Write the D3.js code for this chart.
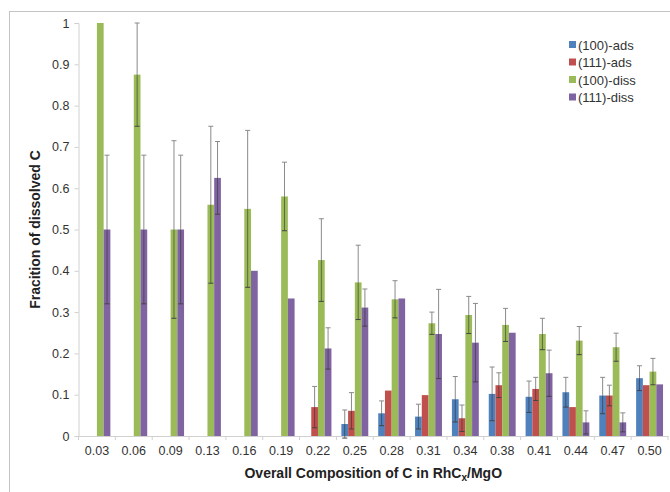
<!DOCTYPE html>
<html><head><meta charset="utf-8">
<script src="https://cdn.jsdelivr.net/npm/d3@7"></script>
<style>body{margin:0;background:#fff}svg{display:block;font-family:"Liberation Sans",Arial,sans-serif}</style>
</head><body><svg id="c" width="670" height="492"></svg>
<script>
const categories = ["0.03","0.06","0.09","0.13","0.16","0.19","0.22","0.25","0.28","0.31","0.34","0.38","0.41","0.44","0.47","0.50"];
const seriesNames = ["(100)-ads","(111)-ads","(100)-diss","(111)-diss"];
const colors = ["#4F81BD","#C0504D","#9BBB59","#8064A2"];
const ads100 = [0,0,0,0,0,0,0,0.029,0.055,0.047,0.089,0.102,0.095,0.106,0.098,0.14];
const ads111 = [0,0,0,0,0,0,0.07,0.061,0.11,0.099,0.043,0.123,0.114,0.07,0.098,0.123];
const diss100 = [1.0,0.875,0.5,0.56,0.55,0.58,0.426,0.372,0.331,0.273,0.293,0.269,0.247,0.231,0.215,0.156];
const diss111 = [0.5,0.5,0.5,0.625,0.4,0.333,0.212,0.311,0.333,0.247,0.226,0.25,0.152,0.033,0.033,0.125];
const errAds100 = [0,0,0,0,0,0,0,0.034,0.03,0.03,0.055,0.065,0.038,0.036,0.044,0.03];
const errAds111 = [0,0,0,0,0,0,0.05,0.044,0,0,0.032,0.03,0.028,0,0.025,0];
const errDiss100 = [0,0.125,0.215,0.19,0.19,0.083,0.1,0.09,0.045,0.027,0.045,0.04,0.038,0.034,0.034,0.032];
const errDiss111 = [0.18,0.18,0.18,0.088,0,0,0.05,0.045,0,0.108,0.095,0,0.056,0.028,0.023,0];
const yTicks = [0,0.1,0.2,0.3,0.4,0.5,0.6,0.7,0.8,0.9,1];

const values = [ads100, ads111, diss100, diss111];
const errs = [errAds100, errAds111, errDiss100, errDiss111];
const svg = d3.select("#c");
const pL = 78.5, pR = 668, pT = 23, pB = 436;

svg.append("rect").attr("x",9.5).attr("y",11.5).attr("width",700).attr("height",500)
  .attr("fill","none").attr("stroke","#c4c4c4");

const x0 = d3.scaleBand().domain(categories).range([pL,pR]).paddingInner(0.27).paddingOuter(0.135);
const x1 = d3.scaleBand().domain(d3.range(4)).range([0,x0.bandwidth()]);
const y = d3.scaleLinear().domain([0,1]).range([pB,pT]);

// y axis
const ya = svg.append("g").attr("transform",`translate(${pL},0)`)
  .call(d3.axisLeft(y).tickValues(yTicks).tickFormat(d=>String(+d.toFixed(1))).tickSize(4).tickPadding(5));
ya.select(".domain").attr("stroke","#d0d0d0");
ya.selectAll(".tick line").attr("stroke","#d0d0d0");
ya.selectAll("text").attr("font-size",12.5).attr("fill","#333");

// x axis
const xa = svg.append("g").attr("transform",`translate(0,${pB})`)
  .call(d3.axisBottom(x0).tickSize(0).tickPadding(10));
xa.select(".domain").attr("stroke","#d0d0d0");
xa.selectAll("text").attr("font-size",12.5).attr("fill","#333");
const step = x0.step();
svg.append("g").selectAll("line").data(d3.range(categories.length+1)).join("line")
  .attr("x1",i=>pL+i*step).attr("x2",i=>pL+i*step)
  .attr("y1",pB).attr("y2",pB+4).attr("stroke","#d0d0d0");

// bars
const groups = svg.append("g").selectAll("g").data(categories).join("g")
  .attr("transform",d=>`translate(${x0(d)},0)`);
groups.each(function(cat,ci){
  const g = d3.select(this);
  for(let s=0;s<4;s++){
    const v = values[s][ci];
    if(v>0){
      g.append("rect").attr("x",x1(s)).attr("width",x1.bandwidth())
        .attr("y",y(v)).attr("height",y(0)-y(v)).attr("fill",colors[s]);
    }
  }
  for(let s=0;s<4;s++){
    const v = values[s][ci], e = errs[s][ci];
    if(v>0 && e>0){
      const cx = x1(s)+x1.bandwidth()/2;
      const hi = Math.min(1,v+e), lo = v-e;
      g.append("line").attr("x1",cx).attr("x2",cx).attr("y1",y(hi)).attr("y2",y(v))
        .attr("stroke","#8a8a8a").attr("stroke-width",1);
      g.append("line").attr("x1",cx).attr("x2",cx).attr("y1",y(v)).attr("y2",y(lo))
        .attr("stroke","#333").attr("stroke-opacity",0.6).attr("stroke-width",1);
      [[hi,"#8a8a8a"],[lo,"#444"]].forEach(([t,c])=>{
        g.append("line").attr("x1",cx-2.5).attr("x2",cx+2.5).attr("y1",y(t)).attr("y2",y(t))
          .attr("stroke",c).attr("stroke-width",1);
      });
    }
  }
});

// legend
const lg = svg.append("g").attr("transform","translate(569,45)");
seriesNames.forEach((n,i)=>{
  const r = lg.append("g").attr("transform",`translate(0,${i*17.5})`);
  r.append("rect").attr("x",0).attr("y",-4).attr("width",7).attr("height",7).attr("fill",colors[i]);
  r.append("text").attr("x",9).attr("y",4.5).attr("font-size",13).attr("fill","#333").text(n);
});

// axis titles
svg.append("text").attr("transform",`translate(40,${(pT+pB)/2}) rotate(-90)`)
  .attr("text-anchor","middle").attr("font-size",14).attr("font-weight","bold").attr("fill","#222")
  .text("Fracition of dissolved C");
const xt = svg.append("text").attr("x",(pL+pR)/2).attr("y",478)
  .attr("text-anchor","middle").attr("font-size",14).attr("font-weight","bold").attr("fill","#222");
xt.append("tspan").text("Overall Composition of C in RhC");
xt.append("tspan").attr("font-size",10).attr("dy",3).text("x");
xt.append("tspan").attr("dy",-3).text("/MgO");
</script></body></html>
